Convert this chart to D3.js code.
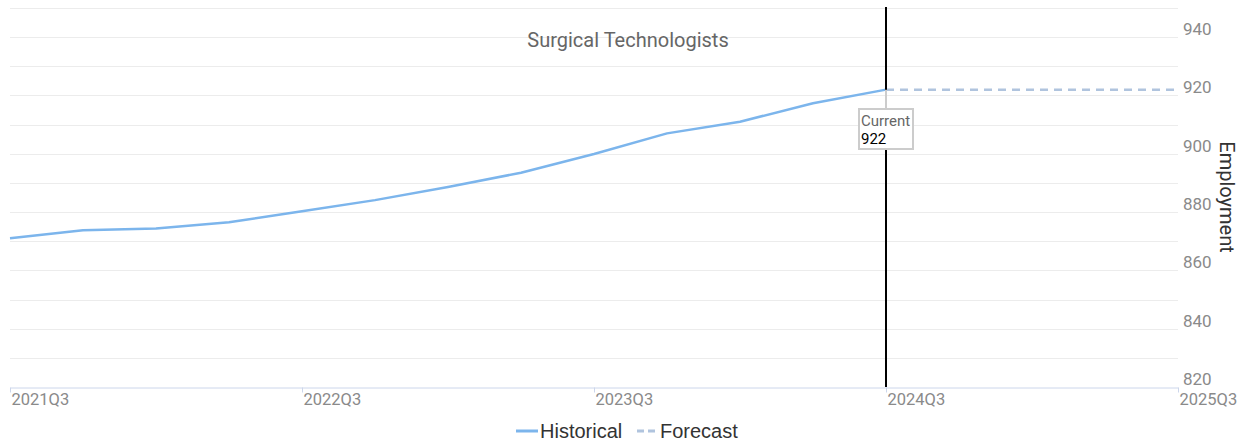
<!DOCTYPE html>
<html>
<head>
<meta charset="utf-8">
<script src="https://cdn.jsdelivr.net/npm/d3@7"></script>
<style>
  body { margin: 0; background: #fff; }
  svg { display: block; }
</style>
</head>
<body>
<div id="chart"></div>
<script>
// Chart size
const w = 1253;
const h = 442;

// Data
const quarters = ["2021Q3", "2021Q4", "2022Q1", "2022Q2", "2022Q3", "2022Q4", "2023Q1", "2023Q2",
  "2023Q3", "2023Q4", "2024Q1", "2024Q2", "2024Q3", "2024Q4", "2025Q1", "2025Q2", "2025Q3"];
const historical = [871.0, 873.8, 874.4, 876.5, 880.3, 884.1, 888.6, 893.5, 899.9, 907.0, 911.0, 917.3, 922];
const forecast = [922, 922, 922, 922, 922];
const forecastStart = 12; // index of 2024Q3, where the forecast starts
const tickLabels = ["2021Q3", "2022Q3", "2023Q3", "2024Q3", "2025Q3"];
const yLabels = [820, 840, 860, 880, 900, 920, 940];
const currentValue = 922;

const svg = d3.select("#chart")
  .append("svg")
  .attr("width", w)
  .attr("height", h);

// scales
const x = d3.scaleLinear()
  .domain([0, quarters.length - 1])
  .range([10, 1178]);

const y = d3.scaleLinear()
  .domain([820, 950])
  .range([387, 8]);

// grid lines every 10
const gridVals = d3.range(830, 951, 10);
svg.append("g")
  .selectAll("line")
  .data(gridVals)
  .enter()
  .append("line")
  .attr("x1", 10)
  .attr("x2", 1178)
  .attr("y1", d => Math.round(y(d)) + 0.5)
  .attr("y2", d => Math.round(y(d)) + 0.5)
  .attr("stroke", "#ececec")
  .attr("stroke-width", 1);

// y axis labels (right side, sitting just above their grid line)
svg.append("g")
  .selectAll("text")
  .data(yLabels)
  .enter()
  .append("text")
  .attr("x", 1183)
  .attr("y", d => y(d) - 2)
  .attr("font-family", "Roboto, sans-serif")
  .attr("font-size", "17px")
  .attr("fill", "#8a8a8a")
  .text(d => d);

// x axis
const xAxis = d3.axisBottom(x)
  .tickValues(tickLabels.map(t => quarters.indexOf(t)))
  .tickFormat(i => quarters[i])
  .tickSize(5)
  .tickSizeOuter(0);

const gx = svg.append("g")
  .attr("transform", "translate(0,387.5)")
  .call(xAxis);

gx.select(".domain").attr("stroke", "#ccd6eb");
gx.selectAll(".tick line").attr("stroke", "#ccd6eb");
gx.selectAll(".tick text")
  .attr("text-anchor", "start")
  .attr("x", 1)
  .attr("y", 6)
  .attr("font-family", "Roboto, sans-serif")
  .attr("font-size", "16.5px")
  .attr("fill", "#8a8a8a");

// lines
const line = d3.line()
  .x(d => x(d[0]))
  .y(d => y(d[1]));

svg.append("path")
  .datum(historical.map((v, i) => [i, v]))
  .attr("d", line)
  .attr("fill", "none")
  .attr("stroke", "#7cb5ec")
  .attr("stroke-width", 2.5)
  .attr("stroke-linejoin", "round");

svg.append("path")
  .datum(forecast.map((v, i) => [forecastStart + i, v]))
  .attr("d", line)
  .attr("fill", "none")
  .attr("stroke", "#b0c4de")
  .attr("stroke-width", 2.5)
  .attr("stroke-dasharray", "8,6");

// current marker line
const cx = x(forecastStart);
svg.append("line")
  .attr("x1", cx)
  .attr("x2", cx)
  .attr("y1", 7)
  .attr("y2", 387)
  .attr("stroke", "#000")
  .attr("stroke-width", 2);

// tooltip callout
const cy = y(currentValue);
svg.append("line")
  .attr("x1", cx)
  .attr("x2", cx)
  .attr("y1", cy)
  .attr("y2", 109)
  .attr("stroke", "#cccccc")
  .attr("stroke-width", 2);

svg.append("rect")
  .attr("x", 859)
  .attr("y", 109)
  .attr("width", 54)
  .attr("height", 40)
  .attr("fill", "#fff")
  .attr("stroke", "#cccccc")
  .attr("stroke-width", 2);

svg.append("text")
  .attr("x", 861)
  .attr("y", 126)
  .attr("font-family", "Roboto, sans-serif")
  .attr("font-size", "15px")
  .attr("fill", "#666")
  .text("Current");

svg.append("text")
  .attr("x", 861)
  .attr("y", 144)
  .attr("font-family", "Roboto, sans-serif")
  .attr("font-size", "15px")
  .attr("fill", "#000")
  .text(currentValue);

// title
svg.append("text")
  .attr("x", 628)
  .attr("y", 47)
  .attr("text-anchor", "middle")
  .attr("font-family", "Roboto, sans-serif")
  .attr("font-size", "20px")
  .attr("fill", "#666")
  .text("Surgical Technologists");

// y axis title
svg.append("text")
  .attr("transform", "translate(1220,197) rotate(90)")
  .attr("text-anchor", "middle")
  .attr("font-family", "Roboto, sans-serif")
  .attr("font-size", "20px")
  .attr("fill", "#333")
  .text("Employment");

// legend
const legend = svg.append("g").attr("transform", "translate(0,431)");
legend.append("line")
  .attr("x1", 516).attr("x2", 538)
  .attr("y1", 0).attr("y2", 0)
  .attr("stroke", "#7cb5ec")
  .attr("stroke-width", 3);
legend.append("text")
  .attr("x", 540)
  .attr("y", 7)
  .attr("font-family", "'Liberation Sans', Arial, sans-serif")
  .attr("font-size", "20px")
  .attr("fill", "#333")
  .text("Historical");
legend.append("line")
  .attr("x1", 637).attr("x2", 655)
  .attr("y1", 0).attr("y2", 0)
  .attr("stroke", "#b0c4de")
  .attr("stroke-width", 3)
  .attr("stroke-dasharray", "7,4");
legend.append("text")
  .attr("x", 660)
  .attr("y", 7)
  .attr("font-family", "'Liberation Sans', Arial, sans-serif")
  .attr("font-size", "20px")
  .attr("fill", "#333")
  .text("Forecast");
</script>
</body>
</html>
